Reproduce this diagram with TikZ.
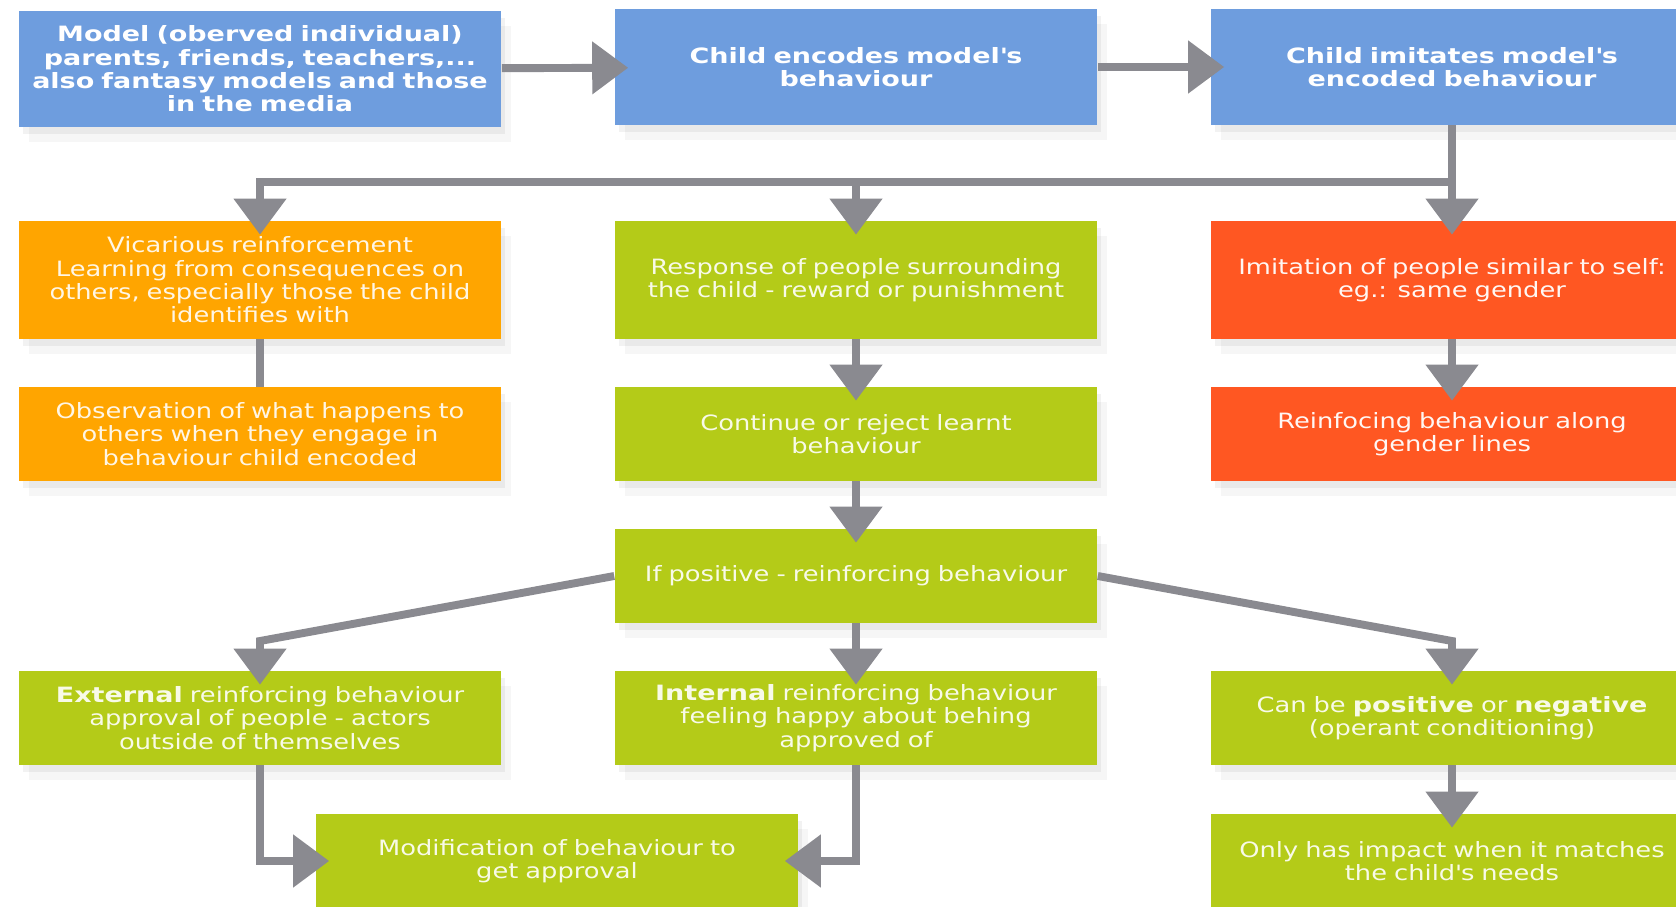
\documentclass[tikz,border=0pt]{standalone}
\usepackage{fontspec}
\setmainfont{DejaVu Sans}[FakeStretch=1.22, BoldFeatures={FakeStretch=1.28}]
\usepackage{tikz}
\usetikzlibrary{arrows.meta, shadows}
\usepackage{xcolor}

\definecolor{boxblue}{RGB}{110,157,222}
\definecolor{boxorange}{RGB}{255,165,0}
\definecolor{boxgreen}{RGB}{180,203,24}
\definecolor{boxred}{RGB}{255,87,34}
\definecolor{arrowgray}{RGB}{138,138,144}

\begin{document}
\begin{tikzpicture}[x=0.02cm, y=-0.02cm,
        box/.style={rectangle, inner sep=0pt, text width=9.66cm, minimum height=1.88cm, align=center,
            font=\fontsize{12pt}{13.3pt}\selectfont,
            drop shadow={shadow xshift=0.08cm, shadow yshift=-0.14cm, opacity=0.10},
            drop shadow={shadow xshift=0.2cm, shadow yshift=-0.3cm, opacity=0.07}},
        bluebox/.style={box, fill=boxblue, text=white, font=\fontsize{12pt}{13.3pt}\selectfont\bfseries, minimum height=2.32cm},
        orangebox/.style={box, fill=boxorange, text=white!90!boxorange},
        greenbox/.style={box, fill=boxgreen, text=white!90!boxgreen},
        redbox/.style={box, fill=boxred, text=white!95!boxred},
        conn/.style={draw=arrowgray, line width=4.5pt},
        arr/.style={conn, -{Triangle[width=1.02cm, length=0.72cm]}, shorten >=-0.28cm}]
    % Frame
    \useasboundingbox (0, 0) rectangle (1676, 906);
    \clip (0, 0) rectangle (1676, 906);
    \fill [white] (0, 0) rectangle (1676, 906);
    % Top row
    \node [bluebox] (model) at (260, 69) {Model (oberved individual)\\parents, friends, teachers,...\\also fantasy models and those\\in the media};
    \node [bluebox] (encode) at (856, 67) {Child encodes model\textquotesingle s\\behaviour};
    \node [bluebox] (imitate) at (1452, 67) {Child imitates model\textquotesingle s\\encoded behaviour};
    % Second row
    \node [orangebox, minimum height=2.36cm] (vicarious) at (260, 280) {Vicarious reinforcement\\Learning from consequences on\\others, especially those the child\\identifies with};
    \node [greenbox, minimum height=2.36cm] (response) at (856, 280) {Response of people surrounding\\the child - reward or punishment};
    \node [redbox, minimum height=2.36cm] (imitation) at (1452, 280) {Imitation of people similar to self:\\eg.: same gender};
    % Third row
    \node [orangebox] (observation) at (260, 434) {Observation of what happens to\\others when they engage in\\behaviour child encoded};
    \node [greenbox] (continue) at (856, 434) {Continue or reject learnt\\behaviour};
    \node [redbox] (gender) at (1452, 434) {Reinfocing behaviour along\\gender lines};
    % Middle
    \node [greenbox] (positive) at (856, 576) {If positive - reinforcing behaviour};
    % Fifth row
    \node [greenbox] (external) at (260, 718) {\textbf{External} reinforcing behaviour\\approval of people - actors\\outside of themselves};
    \node [greenbox] (internal) at (856, 718) {\textbf{Internal} reinforcing behaviour\\feeling happy about behing\\approved of};
    \node [greenbox] (operant) at (1452, 718) {Can be \textbf{positive} or \textbf{negative}\\(operant conditioning)};
    % Bottom row
    \node [greenbox] (modify) at (557, 861) {Modification of behaviour to\\get approval};
    \node [greenbox] (needs) at (1452, 861) {Only has impact when it matches\\the child\textquotesingle s needs};
    % Bends
    \coordinate (split) at (1452, 182);
    \coordinate (bendleft) at (260, 641);
    \coordinate (bendright) at (1452, 641);
    % Arrows
    \draw [arr] (model) -- (encode);
    \draw [arr] (encode) -- (imitate);
    \draw [arr] (imitate) -- (imitation);
    \draw [arr] (split) -| (vicarious.north);
    \draw [arr] (split -| response.north) -- (response);
    \draw [conn] (vicarious) -- (observation);
    \draw [arr] (response) -- (continue);
    \draw [arr] (imitation) -- (gender);
    \draw [arr] (continue) -- (positive);
    \draw [arr] (positive.west) -- (bendleft) -- (external.north);
    \draw [arr] (positive.east) -- (bendright) -- (operant.north);
    \draw [arr] (positive) -- (internal);
    \draw [arr] (operant) -- (needs);
    \draw [arr] (external.south) |- (modify.west);
    \draw [arr] (internal.south) |- (modify.east);
\end{tikzpicture}
\end{document}
